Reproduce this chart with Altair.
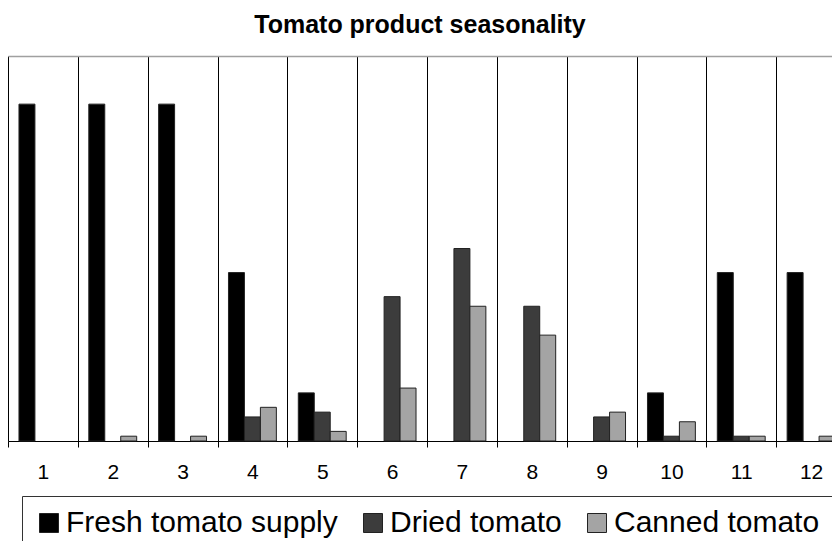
import altair as alt
import pandas as pd

months = [str(m) for m in range(1, 13)]
series = ["Fresh tomato supply", "Dried tomato", "Canned tomato"]
fresh = [7, 7, 7, 3.5, 1, 0, 0, 0, 0, 1, 3.5, 3.5]
dried = [0, 0, 0, 0.5, 0.6, 3, 4, 2.8, 0.5, 0.1, 0.1, 0]
canned = [0, 0.1, 0.1, 0.7, 0.2, 1.1, 2.8, 2.2, 0.6, 0.4, 0.1, 0.1]

rows = []
for s, vals in zip(series, [fresh, dried, canned]):
    for m, v in zip(months, vals):
        if v > 0:
            rows.append({"month": m, "series": s, "value": v})
df = pd.DataFrame(rows)

FONT = "Liberation Sans"
xscale = alt.Scale(domain=months, paddingInner=0, paddingOuter=0, range=[0, 838])

bars = alt.Chart(df).mark_bar(stroke="#222222", strokeWidth=1).encode(
    x=alt.X("month:N", sort=months, scale=xscale,
            axis=alt.Axis(title=None, labelAngle=0, tickBand="extent", grid=True,
                          gridColor="#000000", gridOpacity=1, gridWidth=1,
                          domainColor="#000000", tickColor="#000000", tickSize=6,
                          labelFontSize=21, labelFont=FONT, labelColor="#000000",
                          labelPadding=14)),
    xOffset=alt.XOffset("series:N", sort=series,
                        scale=alt.Scale(domain=series, paddingInner=0, paddingOuter=0.6875)),
    y=alt.Y("value:Q", scale=alt.Scale(domain=[0, 8]), axis=None),
    fill=alt.Fill("series:N", sort=series,
                  scale=alt.Scale(domain=series, range=["#000000", "#3c3c3c", "#a4a4a4"]),
                  legend=alt.Legend(title=None, orient="none", legendX=14, legendY=440,
                                    direction="horizontal", strokeColor="#333333",
                                    padding=12, symbolType="square", symbolSize=361,
                                    symbolStrokeColor="#222222", symbolStrokeWidth=1,
                                    labelFontSize=30, labelFont=FONT, labelColor="#000000",
                                    labelOffset=2, columnPadding=20, labelLimit=500)),
)

top_border = alt.Chart(df).mark_bar(opacity=0).encode(
    x=alt.X("month:N", sort=months, scale=xscale,
            axis=alt.Axis(orient="top", title=None, labels=False, ticks=False, grid=False,
                          domainColor="#a0a0a0", domainWidth=1.5)),
    y=alt.Y("value:Q", scale=alt.Scale(domain=[0, 8]), axis=None),
)

chart = alt.layer(bars, top_border).resolve_axis(x="independent").properties(
    width=824,
    height=385,
    autosize=alt.AutoSizeParams(type="none"),
    padding={"left": 0, "top": 48, "right": 0, "bottom": 100},
    title=alt.Title("Tomato product seasonality", font=FONT, fontSize=25,
                    fontWeight="bold", color="#000000", offset=18),
).configure_view(stroke="transparent")

chart.save("out.html", embed_options={"renderer": "svg", "actions": False})
